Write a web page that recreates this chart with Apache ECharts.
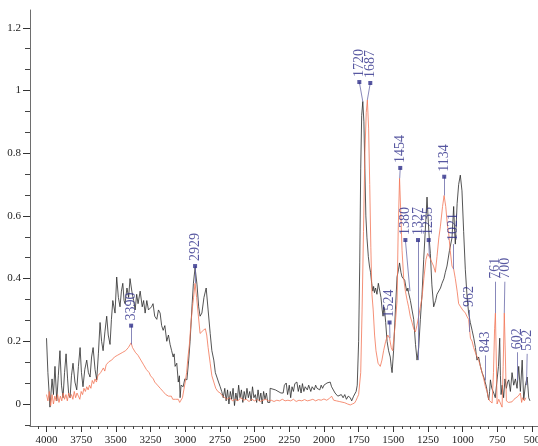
<!DOCTYPE html>
<html><head><meta charset="utf-8">
<script src="https://cdn.jsdelivr.net/npm/echarts@6/dist/echarts.min.js"></script>
<style>html,body{margin:0;padding:0;background:#fff}#c{width:538px;height:446px}</style>
</head><body><div id="c"></div>
<script>
// ---- tick labels ----
const xTickLabels = [4000,3750,3500,3250,3000,2750,2500,2250,2000,1750,1500,1250,1000,750,500];
const yTickLabels = [0,0.2,0.4,0.6,0.8,1,1.2];

// ---- black spectrum ----
const blackWn = [4000,3990,3975,3960,3950,3939,3926,3915,3903,3892,3881,3870,3859,3848,3840,3830,3820,3809,3795,3782,3770,3758,3748,3737,3724,3710,3698,3686,3675,3664,3650,3638,3626,3614,3603,3592,3579,3566,3555,3542,3532,3522,3506,3494,3482,3470,3460,3450,3441,3434,3420,3408,3398,3385,3372,3361,3350,3340,3325,3310,3300,3289,3277,3265,3253,3243,3232,3220,3205,3193,3181,3170,3159,3147,3133,3121,3109,3098,3087,3080,3073,3061,3050,3042,3037,3030,3015,3003,2988,2975,2965,2950,2941,2929,2915,2903,2893,2880,2865,2849,2835,2820,2808,2794,2783,2772,2760,2748,2737,2726,
2715,2705,2695,2685,2675,2665,2655,2645,2635,2625,2615,2605,2595,2585,2575,2565,2555,2545,2535,2525,2515,2505,2495,2485,2475,2465,2455,2445,2435,2425,2415,2405,2390,2388,2350,2310,2294,2285,2272,2262,2250,2240,2230,2220,2210,2195,2185,2175,2165,2155,2145,2135,2120,2110,2095,2085,2070,2060,2050,2040,2030,2020,2010,2000,1990,1978,1965,1955,1945,1935,1920,1910,1900,1887,1875,1862,1850,1838,1825,1810,1800,1786,1775,1768,1760,
1750,1742,1735,1728,1720,1712,1705,1698,1690,1680,1672,1664,1656,1648,1642,1636,1628,1618,1608,1599,1589,1580,1574,1568,1563,1555,1545,1534,1522,1515,1509,1498,1485,1473,1462,1455,1445,1437,1425,1418,1408,1401,1395,1390,1377,1365,1353,1340,1329,1317,1305,1293,1281,1270,1264,1257,1250,1240,1233,1222,1209,1195,1185,1173,1160,1149,1135,1125,1113,1095,1077,1065,1058,1053,1040,1029,1017,1005,993,981,968,957,945,932,920,908,897,885,872,860,848,838,829,820,812,806,800,790,776,765,752,742,733,728,723,715,705,695,685,676,668,656,644,632,620,608,596,584,571,560,548,535,524,515];
const blackAbs = [0.21,0.10,-0.01,0.08,0.03,0.12,0.01,0.09,0.17,0.06,0.02,0.10,0.16,0.08,0.03,0.02,0.09,0.13,0.07,0.045,0.12,0.18,0.10,0.055,0.11,0.14,0.10,0.086,0.15,0.18,0.11,0.077,0.16,0.26,0.20,0.17,0.23,0.28,0.22,0.19,0.27,0.33,0.29,0.405,0.34,0.31,0.36,0.385,0.33,0.32,0.37,0.34,0.40,0.36,0.33,0.30,0.35,0.32,0.36,0.31,0.33,0.29,0.33,0.30,0.30,0.31,0.32,0.28,0.27,0.30,0.29,0.25,0.235,0.25,0.20,0.22,0.19,0.17,0.15,0.16,0.12,0.13,0.07,0.09,0.02,0.06,0.055,0.08,0.077,0.14,0.20,0.32,0.385,0.435,0.38,0.31,0.28,0.29,0.34,0.37,0.30,0.225,0.17,0.14,0.10,0.086,0.07,0.055,0.04,0.02,
0.05,0.01,0.045,0.0,0.04,0.015,0.05,-0.005,0.035,0.01,0.06,0.02,0.045,0.005,0.04,0.015,0.05,0.02,0.04,0.01,0.055,0.02,0.03,0.005,0.045,0.01,0.035,0.0,0.04,0.015,0.035,0.005,0.005,0.05,0.045,0.035,0.035,0.06,0.067,0.03,0.06,0.02,0.055,0.04,0.065,0.07,0.04,0.06,0.035,0.065,0.04,0.055,0.045,0.06,0.04,0.055,0.045,0.06,0.05,0.055,0.045,0.06,0.05,0.06,0.055,0.067,0.065,0.07,0.055,0.05,0.035,0.04,0.025,0.02,0.03,0.02,0.03,0.015,0.025,0.02,0.01,0.025,0.02,0.04,0.06,
0.20,0.45,0.75,0.92,0.965,0.90,0.75,0.60,0.53,0.47,0.44,0.42,0.385,0.36,0.375,0.355,0.37,0.35,0.385,0.38,0.34,0.30,0.28,0.31,0.30,0.26,0.20,0.17,0.15,0.12,0.10,0.17,0.30,0.405,0.43,0.45,0.42,0.405,0.40,0.395,0.37,0.36,0.37,0.355,0.33,0.30,0.27,0.19,0.14,0.18,0.27,0.35,0.46,0.55,0.60,0.66,0.60,0.52,0.48,0.38,0.31,0.33,0.35,0.355,0.37,0.385,0.40,0.42,0.44,0.49,0.53,0.63,0.55,0.51,0.64,0.70,0.73,0.68,0.55,0.43,0.34,0.29,0.26,0.235,0.21,0.18,0.14,0.15,0.12,0.10,0.086,0.07,0.055,0.03,0.013,0.04,0.077,0.05,0.035,0.02,0.077,0.12,0.21,0.09,0.03,0.06,0.02,0.08,0.05,0.07,0.077,0.04,0.10,0.06,0.08,0.05,0.12,0.04,0.14,0.013,0.06,0.086,0.02,0.01];

// ---- red spectrum ----
const redWn = [4000,3990,3980,3970,3960,3950,3940,3930,3920,3910,3900,3890,3880,3870,3860,3850,3840,3830,3820,3810,3800,3790,3780,3770,3760,3750,3740,3730,3720,3710,3700,3690,3680,3670,3660,3650,3640,3630,3620,3610,3600,3590,3580,3570,3560,3550,3540,3530,3520,3510,3500,3490,3480,3470,3460,3450,3440,3430,3420,3410,3400,3390,3380,3370,3360,3350,3340,3330,3320,3310,3300,3290,3280,3270,3260,3250,3240,3230,3220,3210,3200,3190,3180,3170,3160,3150,3140,3130,3120,3110,3100,3090,3080,3070,3060,3050,3040,3030,3020,3010,3000,2990,2980,2970,2960,2950,2940,2929,2918,2905,2893,2880,2870,2855,2845,2835,2820,2808,2794,2780,2765,2748,2730,2715,
2700,2680,2660,2640,2620,2600,2580,2560,2540,2520,2500,2480,2460,2440,2420,2400,2380,2360,2340,2320,2300,2280,2260,2240,2220,2200,2180,2160,2140,2120,2100,2080,2060,2040,2020,2000,1980,1960,1945,1930,1910,1890,1870,1850,1830,1810,1795,1780,1770,1760,
1750,1735,1725,1715,1705,1695,1687,1678,1670,1662,1654,1645,1635,1625,1610,1594,1582,1570,1555,1540,1527,1515,1505,1498,1485,1473,1465,1455,1447,1437,1425,1413,1400,1390,1378,1365,1353,1341,1330,1317,1305,1293,1280,1265,1253,1240,1230,1221,1210,1197,1185,1172,1161,1145,1134,1122,1110,1101,1090,1077,1065,1053,1040,1029,1015,1000,993,980,970,957,944,932,921,905,895,885,872,860,848,836,824,812,800,788,778,770,764,758,752,740,728,716,708,700,692,685,670,656,644,630,616,600,584,575,568,555,545];
const redAbs = [0.03,0.01,0.04,-0.005,0.03,0.0,0.025,0.01,0.03,0.005,0.025,0.01,0.035,0.015,0.03,0.01,0.035,0.02,0.03,0.015,0.04,0.02,0.035,0.025,0.015,0.04,0.03,0.05,0.04,0.055,0.045,0.06,0.05,0.075,0.065,0.08,0.07,0.09,0.085,0.10,0.095,0.115,0.105,0.125,0.12,0.135,0.13,0.14,0.135,0.15,0.145,0.155,0.15,0.16,0.155,0.165,0.16,0.17,0.175,0.18,0.185,0.195,0.18,0.175,0.165,0.16,0.155,0.15,0.14,0.135,0.125,0.12,0.11,0.105,0.10,0.09,0.085,0.08,0.07,0.065,0.06,0.055,0.05,0.045,0.04,0.035,0.03,0.03,0.025,0.02,0.025,0.015,0.02,0.015,0.01,0.015,0.005,0.005,0.02,0.045,0.07,0.10,0.15,0.19,0.25,0.30,0.34,0.385,0.34,0.28,0.225,0.22,0.235,0.24,0.22,0.18,0.13,0.09,0.07,0.05,0.04,0.035,0.025,0.02,
0.015,0.02,0.01,0.015,0.01,0.02,0.012,0.015,0.008,0.015,0.01,0.015,0.008,0.012,0.015,0.01,0.012,0.008,0.012,0.01,0.015,0.01,0.012,0.01,0.015,0.008,0.012,0.01,0.014,0.01,0.012,0.015,0.01,0.014,0.012,0.016,0.012,0.018,0.025,0.012,0.01,0.008,0.006,0.004,0.0,-0.003,0.0,0.003,0.01,0.02,
0.03,0.10,0.30,0.55,0.80,0.93,0.97,0.88,0.70,0.50,0.35,0.30,0.22,0.17,0.13,0.12,0.14,0.17,0.20,0.22,0.21,0.18,0.17,0.17,0.26,0.33,0.55,0.72,0.62,0.49,0.40,0.36,0.33,0.31,0.28,0.26,0.24,0.23,0.25,0.28,0.31,0.34,0.40,0.46,0.48,0.47,0.46,0.46,0.44,0.42,0.47,0.53,0.565,0.63,0.665,0.63,0.57,0.545,0.49,0.44,0.43,0.40,0.36,0.32,0.31,0.30,0.30,0.29,0.28,0.27,0.21,0.20,0.18,0.16,0.15,0.14,0.12,0.10,0.08,0.055,0.04,0.013,0.01,0.003,0.10,0.24,0.29,0.15,0.0,0.015,0.02,-0.01,0.12,0.29,0.15,0.01,0.005,0.01,0.007,0.015,0.02,0.025,0.035,0.005,0.02,0.01,0.02];

// ---- peak annotations ----
const annText   = ['3390','2929','1720','1687','1524','1454','1380','1327','1235','1134','1021','962','843','761','700','602','552'];
const annLabelWn = [3390,2929,1745,1666,1527,1450,1413,1322,1245,1133,1065,955,836,764,696,607,535];
const annLabelAbs= [0.25,0.44,1.027,1.024,0.26,0.753,0.523,0.523,0.523,0.725,0.51,0.30,0.155,0.39,0.39,0.165,0.16];
const annPeakWn  = [3390,2929,1720,1687,1524,1454,1380,1322,1240,1134,1065,955,836,764,700,607,540];
const annPeakAbs = [0.19,0.385,0.965,0.97,0.21,0.72,0.36,0.14,0.47,0.665,0.43,0.23,0.075,0.29,0.29,0.075,0.06];
const annHasMarker = [1,1,1,1,1,1,1,1,1,1,0,0,0,0,0,0,0];

// derived minor ticks
const xMinor = [];
for (let k = 1; k <= 57; k++) { const v = 500 + 62.5 * k; if (v % 250 !== 0) xMinor.push(v); }
const yMinor = [];
for (let k = -1; k <= 17; k++) { if (k % 3 !== 0) yMinor.push(k / 15); }

const zip = (a, b) => a.map((v, i) => [v, b[i]]);

const XMIN = 457, XMAX = 4119, YMIN = -0.0702, YMAX = 1.2568;
const axisCol = '#6e6e6e';
const serif = 'Liberation Serif';

const chart = echarts.init(document.getElementById('c'), null, {renderer: 'canvas'});
chart.setOption({
  animation: false,
  backgroundColor: '#fff',
  grid: {left: 30, right: 0, top: 10, bottom: 20, containLabel: false, outerBoundsMode: 'none'},
  xAxis: [
    {type: 'value', inverse: true, min: XMIN, max: XMAX, position: 'bottom',
     axisLine: {show: true, onZero: false, lineStyle: {color: axisCol, width: 1}},
     axisTick: {show: true, customValues: xTickLabels, length: 6, lineStyle: {color: '#333', width: 1}},
     axisLabel: {show: true, customValues: xTickLabels, margin: 9, fontFamily: serif, fontSize: 11, color: '#222', hideOverlap: false,
       formatter: v => String(v)},
     splitLine: {show: false}},
    {type: 'value', inverse: true, min: XMIN, max: XMAX, position: 'bottom',
     axisLine: {show: false, onZero: false},
     axisTick: {show: true, customValues: xMinor, length: 3, lineStyle: {color: '#444', width: 1}},
     axisLabel: {show: false}, splitLine: {show: false}}
  ],
  yAxis: [
    {type: 'value', min: YMIN, max: YMAX, position: 'left',
     axisLine: {show: true, onZero: false, lineStyle: {color: axisCol, width: 1}},
     axisTick: {show: true, customValues: yTickLabels, length: 7, lineStyle: {color: '#333', width: 1}},
     axisLabel: {show: true, customValues: yTickLabels, margin: 9, fontFamily: serif, fontSize: 11, color: '#222',
       formatter: v => String(v)},
     splitLine: {show: false}},
    {type: 'value', min: YMIN, max: YMAX, position: 'left',
     axisLine: {show: false, onZero: false},
     axisTick: {show: true, customValues: yMinor, length: 5, lineStyle: {color: '#444', width: 1}},
     axisLabel: {show: false}, splitLine: {show: false}}
  ],
  series: [
    {type: 'line', xAxisIndex: 0, yAxisIndex: 0, data: zip(blackWn, blackAbs), symbol: 'none',
     lineStyle: {color: '#2a2a2a', width: 0.8}, z: 2},
    {type: 'line', xAxisIndex: 0, yAxisIndex: 0, data: zip(redWn, redAbs), symbol: 'none',
     lineStyle: {color: '#f37556', width: 0.8}, z: 3},
    {type: 'scatter', xAxisIndex: 0, yAxisIndex: 0, z: 5,
     data: annText.map((t, i) => ({value: [annLabelWn[i], annLabelAbs[i]], symbolSize: annHasMarker[i] ? 4 : 0.01})),
     symbol: 'rect', itemStyle: {color: '#2e2e8a'},
     label: {show: true, position: 'top', distance: 3, rotate: 90, align: 'left', verticalAlign: 'middle',
       formatter: p => annText[p.dataIndex], fontFamily: serif, fontSize: 14, color: '#2e2e8a'},
     markLine: {silent: true, symbol: ['none', 'none'], animation: false,
       label: {show: false},
       lineStyle: {color: '#6a6aa8', width: 0.8, type: 'solid'},
       data: annText.map((t, i) => [{coord: [annLabelWn[i], annLabelAbs[i]]}, {coord: [annPeakWn[i], annPeakAbs[i]]}])}
    }
  ]
});
</script></body></html>
